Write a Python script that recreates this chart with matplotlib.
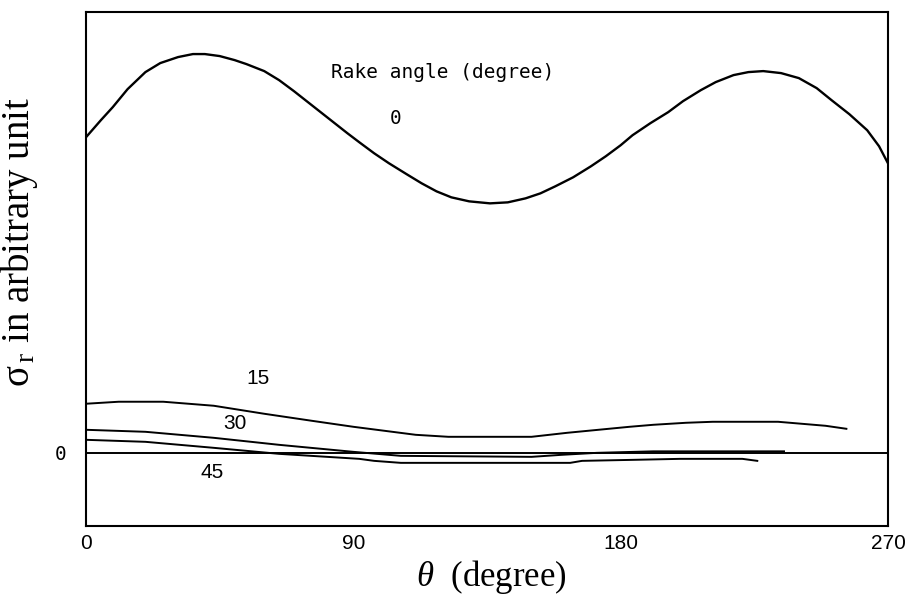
import numpy as np
import matplotlib
matplotlib.use("Agg")
import matplotlib.pyplot as plt

plt.rcParams['mathtext.fontset'] = 'custom'
plt.rcParams['mathtext.rm'] = 'Liberation Serif'
plt.rcParams['mathtext.it'] = 'Liberation Serif:italic'

# rake angle 0
theta0 = [0, 5, 9, 14, 20, 25, 31, 36, 40, 45, 50, 54, 60, 65, 70, 76, 82, 88, 92,
          97, 102, 108, 113, 118, 123, 129, 136, 142, 148, 153, 158, 164, 170, 175,
          180, 184, 190, 196, 201, 207, 212, 218, 223, 228, 234, 240, 246, 251, 257,
          263, 267, 270]
sig0 = [315, 332, 345, 363, 380, 389, 395, 398, 398, 396, 392, 388, 381, 372, 361,
        347, 333, 319, 310, 299, 289, 278, 269, 261, 255, 251, 249, 250, 254, 259,
        266, 275, 286, 296, 307, 317, 329, 340, 351, 362, 370, 377, 380, 381, 379,
        374, 364, 352, 338, 322, 306, 289]

# rake angle 15
theta15 = [0, 11, 26, 43, 60, 76, 90, 111, 122, 150, 162, 176, 183, 191, 202, 211,
           233, 241, 249, 256]
sig15 = [49, 51, 51, 47, 39, 32, 26, 18, 16, 16, 20, 24, 26, 28, 30, 31,
         31, 29, 27, 24]

# rake angle 30
theta30 = [0, 20, 43, 65, 90, 106, 150, 160, 172, 191, 235]
sig30 = [23, 21, 15, 8, 1, -3, -4, -2, 0, 1.5, 1.5]

# rake angle 45
theta45 = [0, 20, 43, 65, 92, 97, 106, 163, 167, 184, 200, 221, 226]
sig45 = [13, 11, 5, -1, -6, -8, -10, -10, -8, -7, -6, -6, -8]

xticks = [0, 90, 180, 270]

fig = plt.figure(figsize=(9.16, 5.99), dpi=100)
ax = fig.add_axes([0.0939, 0.1219, 0.8755, 0.8581])

ax.plot(theta0, sig0, color='black', lw=1.7)
ax.plot(theta15, sig15, color='black', lw=1.4)
ax.plot(theta30, sig30, color='black', lw=1.4)
ax.plot(theta45, sig45, color='black', lw=1.4)
ax.plot([0, 270], [0, 0], color='black', lw=1.4)

ax.set_xlim(0, 270)
ax.set_ylim(-73, 440)

ax.set_xticks(xticks)
ax.set_xticklabels([str(t) for t in xticks], fontsize=15, family='Liberation Sans')
ax.set_yticks([0])
ax.set_yticklabels(['0'], fontsize=14, family='DejaVu Sans Mono')
ax.tick_params(axis='x', length=0, pad=6)
ax.tick_params(axis='y', length=0, pad=14)

for s in ax.spines.values():
    s.set_linewidth(1.5)

ax.set_xlabel(r'$\theta$  (degree)', fontsize=25, family='Liberation Serif', va='center')
ax.xaxis.set_label_coords(0.505, -0.1)
ax.set_ylabel(r'$\mathrm{\sigma}_{\,\mathrm{r}}$ in arbitrary unit', fontsize=28,
              family='Liberation Serif')
ax.yaxis.set_label_coords(-0.057, 0.553)

mono = dict(family='DejaVu Sans Mono', fontsize=14, ha='center', va='center')
ax.text(119.9, 380, 'Rake angle (degree)', **mono)
ax.text(104.4, 334, '0', **mono)

sans = dict(family='Liberation Sans', fontsize=15, ha='center', va='center')
ax.text(57.9, 74, '15', **sans)
ax.text(50.2, 29, '30', **sans)
ax.text(42.4, -20, '45', **sans)

fig.savefig('out.png', dpi=100)
